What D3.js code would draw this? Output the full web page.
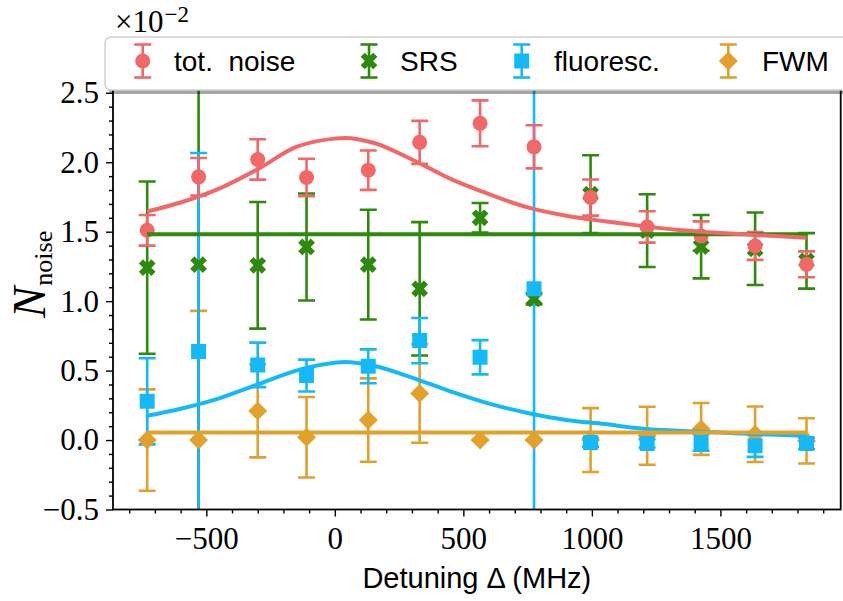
<!DOCTYPE html>
<html>
<head>
<meta charset="utf-8">
<script src="https://cdn.jsdelivr.net/npm/d3@7"></script>
<style>
  body { margin: 0; background: #fff; }
  svg { display: block; }
</style>
</head>
<body>
<svg id="chart" width="843" height="601"></svg>
<script>
// Detuning of each measurement (MHz)
const detuning = [-730, -530, -300, -110, 130, 330, 565, 775, 995, 1215, 1425, 1635, 1835];

// Noise contributions (units of 1e-2) and their uncertainties
const totNoise    = [1.51, 1.895, 2.02, 1.89, 1.943, 2.143, 2.28, 2.111, 1.746, 1.534, 1.469, 1.397, 1.265];
const totNoiseErr = [0.11, 0.135, 0.145, 0.135, 0.142, 0.155, 0.165, 0.155, 0.13, 0.113, 0.105, 0.10, 0.093];

const srsNoise    = [1.241, 1.263, 1.258, 1.39, 1.263, 1.089, 1.60, 1.017, 1.77, 1.508, 1.392, 1.377, 1.29];
const srsNoiseErr = [0.62, 1.9, 0.456, 0.385, 0.395, 0.48, 0.107, 0.04, 0.28, 0.262, 0.228, 0.261, 0.20];

const fluoNoise    = [0.279, 0.637, 0.541, 0.464, 0.531, 0.716, 0.596, 1.089, -0.017, -0.024, -0.017, -0.041, -0.024];
const fluoNoiseErr = [0.31, 1.43, 0.16, 0.115, 0.122, 0.163, 0.123, 1.75, 0.03, 0.03, 0.06, 0.08, 0.04];

const fwmNoise    = [0.0, 0.0, 0.21, 0.02, 0.144, 0.336, 0.0, 0.0, 0.0, 0.031, 0.08, 0.042, -0.006];
const fwmNoiseErr = [0.365, 0.93, 0.335, 0.29, 0.30, 0.355, 0.0, 0.0, 0.23, 0.209, 0.187, 0.2, 0.163];

// Fitted curves sampled along the detuning axis
const fitDetuning = [-730, -600, -450, -300, -150, 0, 40, 150, 300, 450, 600, 750, 900, 1050, 1200, 1350, 1500, 1650, 1835];
const totFit  = [1.645, 1.71, 1.81, 1.95, 2.11, 2.17, 2.175, 2.14, 2.02, 1.88, 1.77, 1.675, 1.615, 1.575, 1.54, 1.51, 1.49, 1.475, 1.457];
const fluoFit = [0.175, 0.225, 0.30, 0.40, 0.50, 0.556, 0.562, 0.535, 0.45, 0.35, 0.262, 0.195, 0.145, 0.115, 0.082, 0.066, 0.054, 0.042, 0.031];
// Constant fits span the measured range
const flatFitDetuning = [-730, 1835];
const srsFit = [1.481, 1.481];
const fwmFit = [0.055, 0.055];

// Axis ticks
const xMajorTicks = [-500, 0, 500, 1000, 1500];
const yMajorTicks = [-0.5, 0.0, 0.5, 1.0, 1.5, 2.0, 2.5];

const legendLabels = ["tot.\u00a0 noise", "SRS", "fluoresc.", "FWM"];

const colors = { tot: "#f26767", srs: "#2d8a0c", fluo: "#14baf8", fwm: "#e1a12b" };

const svg = d3.select("#chart");
const plot = { left: 113, right: 840.7, top: 40, bottom: 509.5 };

const x = d3.scaleLinear().domain([-863, 1968]).range([plot.left, plot.right]);
const y = d3.scaleLinear().domain([-0.5, 2.88]).range([plot.bottom, plot.top]);

const xMinorTicks = d3.range(-800, 1901, 100).filter(v => !xMajorTicks.includes(v));
const yMinorTicks = d3.range(-5, 29).map(v => v / 10).filter(v => !yMajorTicks.some(t => Math.abs(t - v) < 1e-9));

svg.append("defs").append("clipPath").attr("id", "plotClip")
  .append("rect")
  .attr("x", plot.left).attr("y", plot.top)
  .attr("width", plot.right - plot.left).attr("height", plot.bottom - plot.top);

// ---- axes ----
const serif = "Liberation Serif, DejaVu Serif, serif";
const sans = "Liberation Sans, Arial, sans-serif";

function styleAxis(g) {
  g.select(".domain").remove();
  g.selectAll(".tick line").attr("stroke", "#000").attr("stroke-width", 1.4);
  g.selectAll(".tick text").attr("fill", "#000");
  g.attr("font-family", serif).attr("font-size", 31);
}

svg.append("g")
  .attr("transform", `translate(0,${plot.bottom})`)
  .call(d3.axisBottom(x).tickValues(xMajorTicks).tickSize(7).tickPadding(10).tickFormat(d3.format("d")))
  .call(styleAxis);
svg.append("g")
  .attr("transform", `translate(0,${plot.bottom})`)
  .call(d3.axisBottom(x).tickValues(xMinorTicks).tickSize(4).tickFormat(""))
  .call(styleAxis);
svg.append("g")
  .attr("transform", `translate(${plot.left},0)`)
  .call(d3.axisLeft(y).tickValues(yMajorTicks).tickSize(7).tickPadding(7).tickFormat(d3.format(".1f")))
  .call(styleAxis);
svg.append("g")
  .attr("transform", `translate(${plot.left},0)`)
  .call(d3.axisLeft(y).tickValues(yMinorTicks).tickSize(4).tickFormat(""))
  .call(styleAxis);

// ---- data ----
const layer = svg.append("g").attr("clip-path", "url(#plotClip)");
const barLayer = layer.append("g");
const markerLayer = layer.append("g");
const fitLayer = layer.append("g");

const symbolPaths = {
  tot:  { path: d3.symbol(d3.symbolCircle, 177)(), rot: 0 },
  srs:  { path: d3.symbol(d3.symbolCross, 175)(), rot: 45 },
  fluo: { path: d3.symbol(d3.symbolSquare, 225)(), rot: 0 },
  fwm:  { path: d3.symbol(d3.symbolSquare, 180)(), rot: 45 }
};

const capHalf = 8.5;

function drawBar(g, cx, cyTop, cyBot, key) {
  const c = colors[key];
  g.append("line").attr("x1", cx).attr("x2", cx).attr("y1", cyTop).attr("y2", cyBot)
    .attr("stroke", c).attr("stroke-width", 2.6);
  [cyTop, cyBot].forEach(cv => {
    g.append("line").attr("x1", cx - capHalf).attr("x2", cx + capHalf).attr("y1", cv).attr("y2", cv)
      .attr("stroke", c).attr("stroke-width", 2.6);
  });
}

function drawMarker(g, cx, cy, key) {
  g.append("path").attr("d", symbolPaths[key].path)
    .attr("transform", `translate(${cx},${cy}) rotate(${symbolPaths[key].rot})`)
    .attr("fill", colors[key]);
}

// Error bars of all series sit beneath all markers
function series(key, values, errs) {
  const bars = barLayer.append("g");
  const marks = markerLayer.append("g");
  values.forEach((v, i) => {
    drawBar(bars, x(detuning[i]), y(v + errs[i]), y(v - errs[i]), key);
    drawMarker(marks, x(detuning[i]), y(v), key);
  });
}

series("fwm", fwmNoise, fwmNoiseErr);
series("srs", srsNoise, srsNoiseErr);
series("fluo", fluoNoise, fluoNoiseErr);
series("tot", totNoise, totNoiseErr);

function fitLine(xs, ys, key) {
  const line = d3.line().x((d, i) => x(xs[i])).y(d => y(d)).curve(d3.curveMonotoneX);
  fitLayer.append("path").attr("d", line(ys))
    .attr("fill", "none").attr("stroke", colors[key]).attr("stroke-width", 4)
    .attr("stroke-linecap", "butt");
}

fitLine(flatFitDetuning, srsFit, "srs");
fitLine(fitDetuning, fluoFit, "fluo");
fitLine(flatFitDetuning, fwmFit, "fwm");
fitLine(fitDetuning, totFit, "tot");

// ---- spines ----
svg.append("rect")
  .attr("x", plot.left).attr("y", plot.top)
  .attr("width", plot.right - plot.left).attr("height", plot.bottom - plot.top)
  .attr("fill", "none").attr("stroke", "#000").attr("stroke-width", 1.8);

// ---- axis labels ----
svg.append("text")
  .attr("x", (plot.left + plot.right) / 2).attr("y", 588)
  .attr("text-anchor", "middle")
  .attr("font-family", sans).attr("font-size", 29)
  .text("Detuning \u0394 (MHz)");

const yLabel = svg.append("text")
  .attr("transform", "translate(45,318) rotate(-90)")
  .attr("font-family", serif);
yLabel.append("tspan").attr("font-size", 47).attr("font-style", "italic").text("N");
yLabel.append("tspan").attr("font-size", 26).attr("dy", 7).attr("dx", 1).text("noise");

// scale factor annotation above the axes
const offsetText = svg.append("text").attr("x", 115).attr("y", 32).attr("font-family", serif);
offsetText.append("tspan").attr("font-size", 31).text("\u00d710");
offsetText.append("tspan").attr("font-size", 23).attr("dy", -10).attr("dx", 1).text("\u22122");

// ---- legend ----
const legend = svg.append("g");
const lg = { x: 105, y: 37, w: 745, h: 53 };
legend.append("rect")
  .attr("x", lg.x + 3).attr("y", lg.y + 4).attr("width", lg.w).attr("height", lg.h)
  .attr("rx", 6).attr("fill", "#000").attr("opacity", 0.35);
legend.append("rect")
  .attr("x", lg.x).attr("y", lg.y).attr("width", lg.w).attr("height", lg.h)
  .attr("rx", 6).attr("fill", "#fff").attr("stroke", "#cfcfcf").attr("stroke-width", 1.5);

const legendKeys = ["tot", "srs", "fluo", "fwm"];
const legendMarkerX = [142.7, 369, 521.7, 728.3];
const legendTextX = [174, 400, 554, 762];
const legendY = 61;
legendKeys.forEach((key, i) => {
  drawBar(legend, legendMarkerX[i], legendY - 16.5, legendY + 16.5, key);
  drawMarker(legend, legendMarkerX[i], legendY, key);
  legend.append("text")
    .attr("x", legendTextX[i]).attr("y", legendY + 10)
    .attr("font-family", sans).attr("font-size", 28)
    .attr("fill", "#000")
    .text(legendLabels[i]);
});
</script>
</body>
</html>
